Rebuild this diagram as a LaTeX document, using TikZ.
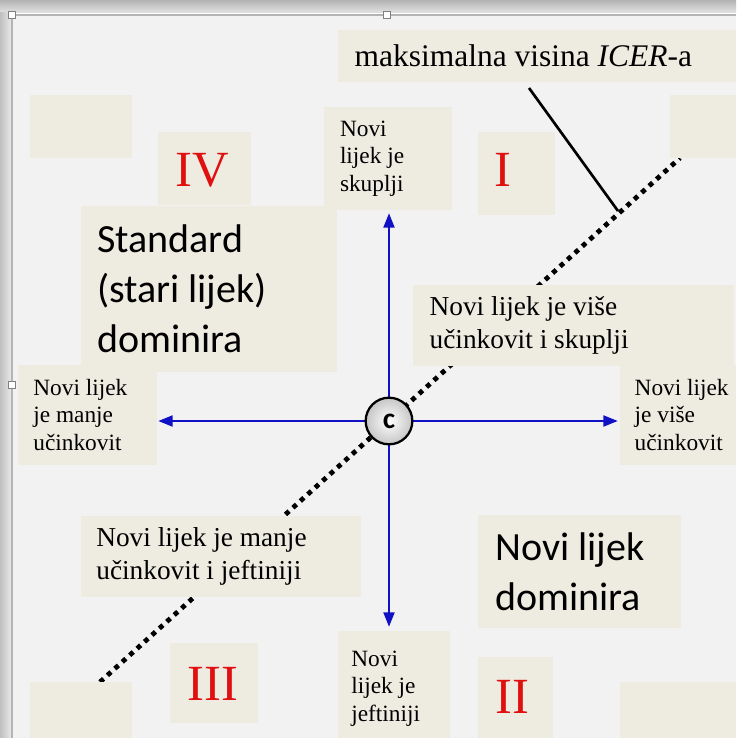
\documentclass[tikz,border=0pt]{standalone}
\usepackage{fontspec}
\setmainfont{Liberation Serif}
\newfontfamily\carlito{Carlito}
\usetikzlibrary{arrows.meta, fit}

\definecolor{canvas}{HTML}{F2F2F2}
\definecolor{panelbg}{HTML}{EEECE1}
\definecolor{axisblue}{HTML}{1010C4}
\definecolor{numred}{HTML}{E01010}
\definecolor{framegray}{HTML}{B4B4B4}

\tikzset{
  panel/.style={fill=panelbg, draw=none, inner sep=0pt},
  smalltxt/.style={anchor=west, inner sep=0pt, align=left, font=\fontsize{17.5}{20.6}\selectfont},
  midtxt/.style={anchor=west, inner sep=0pt, align=left, font=\fontsize{20.5}{24.8}\selectfont},
  bigtxt/.style={anchor=west, inner sep=0pt, align=left, font=\carlito\fontsize{30}{37.5}\selectfont},
  numeral/.style={inner sep=0pt, text=numred, font=\fontsize{38}{40}\selectfont},
  axis/.style={draw=axisblue, line width=2.2pt, {Triangle[length=11pt,width=8pt]}-{Triangle[length=11pt,width=8pt]}},
  icerdots/.style={line width=3.6pt, dash pattern=on 3.6pt off 3.9pt},
  handle/.style={draw=gray, fill=white, line width=0.5pt, minimum size=5pt, inner sep=0pt},
}

\begin{document}
\begin{tikzpicture}[x=0.75pt, y=-0.75pt]
\useasboundingbox (0,0) rectangle (736,738);

% window edge and canvas
\shade[top color=gray!60, bottom color=gray!22] (0,0) rectangle (736,13);
\shade[left color=gray!50, right color=gray!18] (0,13) rectangle (11,738);
\fill[canvas] (12,15) rectangle (736,738);
\draw[framegray, line width=0.8pt] (12,738) -- (12,15) -- (736,15);

% ICER threshold line
\coordinate (dlow) at (100,682);
\coordinate (dhigh) at (680,158);
\coordinate (icertop) at (529,88);
\coordinate (icerfoot) at (618,211);
\draw[icerdots] (dlow) -- (dhigh);
\draw[line width=2pt] (icertop) -- (icerfoot);

% panels
\node[panel, fit={(338,30) (736,82)}] (pIcer) {};
\node[panel, fit={(30,95) (132,158)}] (pTL) {};
\node[panel, fit={(670,95) (736,158)}] (pTR) {};
\node[panel, fit={(158,132) (251,205)}] (pIV) {};
\node[panel, fit={(324,107) (452,210)}] (pSkuplji) {};
\node[panel, fit={(478,132) (555,215)}] (pI) {};
\node[panel, fit={(81,206) (337,372)}] (pStandard) {};
\node[panel, fit={(413,285) (734,366)}] (pViseSkuplji) {};
\node[panel, fit={(18,365) (157,465)}] (pManje) {};
\node[panel, fit={(620,365) (736,465)}] (pVise) {};
\node[panel, fit={(81,516) (361,597)}] (pManjeJeft) {};
\node[panel, fit={(478,515) (681,628)}] (pDominira) {};
\node[panel, fit={(170,643) (258,723)}] (pIII) {};
\node[panel, fit={(338,631) (450,738)}] (pJeftiniji) {};
\node[panel, fit={(478,657) (553,738)}] (pII) {};
\node[panel, fit={(30,682) (132,738)}] (pBL) {};
\node[panel, fit={(620,682) (736,738)}] (pBR) {};

% axes and origin
\coordinate (xleft) at (158,421);
\coordinate (xright) at (618,421);
\coordinate (ytop) at (389,213);
\coordinate (ybottom) at (389,627);
\draw[axis] (xleft) -- (xright);
\draw[axis] (ytop) -- (ybottom);
\node[circle, draw=black, line width=1.7pt, minimum size=35pt, inner sep=0pt,
      inner color=white, outer color=gray!45,
      font=\carlito\bfseries\fontsize{22}{22}\selectfont] (origin) at (389,421) {c};

% texts
\node[anchor=west, inner sep=0pt, font=\fontsize{23.6}{26}\selectfont] (tIcer)
  at ([xshift=12.5pt]pIcer.west) {maksimalna visina \textit{ICER}-a};
\node[smalltxt] (tSkuplji) at ([xshift=12pt]pSkuplji.west) {Novi\\lijek je\\skuplji};
\node[bigtxt] (tStandard) at ([xshift=12pt]pStandard.west) {Standard\\(stari lijek)\\dominira};
\node[midtxt] (tViseSkuplji) at ([xshift=12.5pt]pViseSkuplji.west) {Novi lijek je više\\učinkovit i skuplji};
\node[smalltxt] (tManje) at ([xshift=11.5pt]pManje.west) {Novi lijek\\je manje\\učinkovit};
\node[smalltxt] (tVise) at ([xshift=11pt]pVise.west) {Novi lijek\\je više\\učinkovit};
\node[midtxt] (tManjeJeft) at ([xshift=11.5pt]pManjeJeft.west) {Novi lijek je manje\\učinkovit i jeftiniji};
\node[bigtxt] (tDominira) at ([xshift=13pt]pDominira.west) {Novi lijek\\dominira};
\node[smalltxt] (tJeftiniji) at ([xshift=10pt,yshift=-3pt]pJeftiniji.west) {Novi\\lijek je\\jeftiniji};

% quadrant numerals
\node[numeral] (nIV) at (202,170) {IV};
\node[numeral] (nI) at (503,170) {I};
\node[numeral] (nIII) at (213,684) {III};
\node[numeral] (nII) at (512,697) {II};

% selection handles
\node[handle] (h1) at (12,15) {};
\node[handle] (h2) at (387,15) {};
\node[handle] (h3) at (12,385) {};
\end{tikzpicture}
\end{document}
